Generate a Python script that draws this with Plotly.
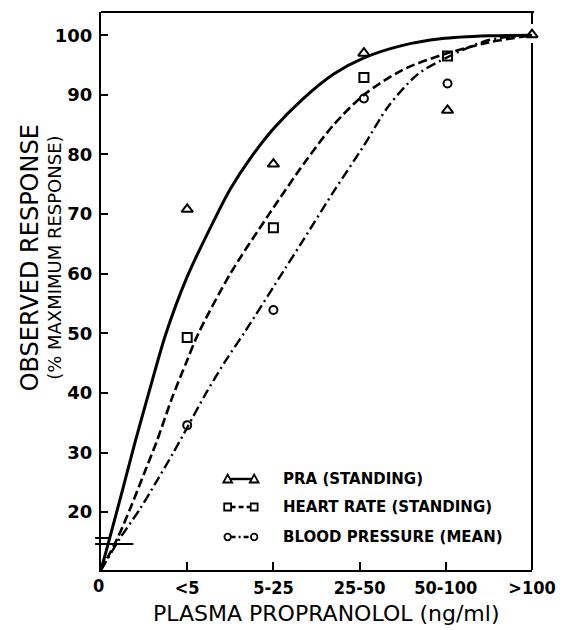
import plotly.graph_objects as go

# ---------------- data ----------------
TICK_POS = [0, 1, 2, 3, 4, 5]
TICK_TEXT = ["0", "<5", "5-25", "25-50", "50-100", ">100"]
Y_TICKS = [20, 30, 40, 50, 60, 70, 80, 90, 100]

# observed points (% maximum response)
PRA_X = [1, 2, 3.05, 4.02, 5.0]
PRA_Y = [70.8, 78.4, 97.0, 87.4, 100.1]
HR_X = [1, 2, 3.05, 4.02, 5.14]
HR_Y = [49.3, 67.7, 92.9, 96.5, 100.0]
BP_X = [1, 2, 3.05, 4.02, 5.26]
BP_Y = [34.6, 53.9, 89.4, 91.9, 100.0]

# fitted curves
PRA_CX = [0, 0.10, 0.20, 0.30, 0.40, 0.56, 0.75, 1.0, 1.33, 1.5, 1.73, 2.0, 2.34, 2.7, 3.05, 3.5, 3.94, 4.5, 5.0]
PRA_CY = [0, 15.6, 21, 26.5, 32, 40.3, 49.8, 59.5, 69.5, 74.2, 79.3, 84.3, 89.3, 93.5, 96.2, 98.3, 99.4, 99.9, 100]
HR_CX = [0, 0.19, 0.35, 0.5, 0.65, 0.82, 1.0, 1.13, 1.5, 1.95, 2.38, 2.7, 3.05, 3.5, 4.0, 4.5, 5.0]
HR_CY = [0, 15.6, 21, 26.5, 32, 39, 45.5, 50, 60, 70, 79.0, 85.0, 90.0, 94.2, 96.9, 98.8, 100]
BP_CX = [0, 0.22, 0.45, 0.65, 0.84, 1.0, 1.22, 1.45, 1.68, 2.12, 2.34, 2.7, 3.05, 3.33, 3.67, 4.03, 4.5, 5.0]
BP_CY = [0, 15.6, 20.5, 25.3, 30, 34.2, 40, 45.5, 50.5, 60.5, 65.5, 73.8, 81.5, 88, 93.4, 96.4, 99.2, 100]

LEGEND_LABELS = ["PRA (STANDING)", "HEART RATE (STANDING)", "BLOOD PRESSURE (MEAN)"]

# ---------------- axis break handling ----------------
Y_MIN, Y_MAX = 10.3, 103.9
BREAK = 15.6


def ybrk(vals):
    """compress 0..BREAK into Y_MIN..BREAK (broken axis)"""
    return [v if v >= BREAK else Y_MIN + v * (BREAK - Y_MIN) / BREAK for v in vals]


FONT = "DejaVu Sans"
NARROW = "Liberation Sans Narrow, DejaVu Sans Condensed, Arial Narrow, sans-serif"

fig = go.Figure()

styles = [
    (PRA_CX, PRA_CY, PRA_X, PRA_Y, "solid", 3, "triangle-up-open", 10),
    (HR_CX, HR_CY, HR_X, HR_Y, "9px,4px", 2.6, "square-open", 9),
    (BP_CX, BP_CY, BP_X, BP_Y, "10px,4px,2px,4px", 2.4, "circle-open", 8),
]

for cx, cy, px, py, dash, w, sym, ms in styles:
    fig.add_trace(go.Scatter(
        x=cx, y=ybrk(cy), mode="lines",
        line=dict(color="black", width=w, dash=dash, shape="spline", smoothing=0.8),
        showlegend=False, hoverinfo="skip"))
    fig.add_trace(go.Scatter(
        x=px, y=ybrk(py), mode="markers",
        marker=dict(symbol=sym, size=ms, color="black", line=dict(width=2, color="black")),
        cliponaxis=False, showlegend=False))

# ---------------- layout ----------------
L, R, T, B = 101, 540, 12, 570
W, H = 568, 630


def PX(x):
    return (x - L) / (R - L)


def PY(y):
    return (B - y) / (B - T)


shapes = []
# top border and right border (with gap at the >100 markers)
shapes.append(dict(type="line", xref="paper", yref="paper", x0=0, x1=PX(542), y0=1, y1=1,
                   line=dict(color="black", width=2)))
shapes.append(dict(type="line", xref="paper", yref="paper", x0=1, x1=1, y0=PY(24), y1=1,
                   line=dict(color="black", width=2)))
shapes.append(dict(type="line", xref="paper", yref="paper", x0=1, x1=1, y0=0, y1=PY(43),
                   line=dict(color="black", width=2)))
# axis break marks
shapes.append(dict(type="line", xref="paper", yref="paper", x0=PX(95), x1=PX(110), y0=PY(538), y1=PY(538),
                   line=dict(color="black", width=2)))
shapes.append(dict(type="line", xref="paper", yref="paper", x0=PX(95), x1=PX(134), y0=PY(544), y1=PY(544),
                   line=dict(color="black", width=2)))

# custom legend
rows = [479, 507, 537]
dashes = ["solid", "5px,3px", "5px,3px,2px,3px"]
annotations = []
for i, (ry, lab) in enumerate(zip(rows, LEGEND_LABELS)):
    x1, x2 = 230, 257
    shapes.append(dict(type="line", xref="paper", yref="paper", x0=PX(x1 + 3), x1=PX(x2 - 3),
                       y0=PY(ry), y1=PY(ry), line=dict(color="black", width=2.4, dash=dashes[i])))
    for cxp in (x1, x2):
        if i == 0:
            s = 4.5
            path = "M {},{} L {},{} L {},{} Z".format(
                PX(cxp - s), PY(ry + 3.5), PX(cxp + s), PY(ry + 3.5), PX(cxp), PY(ry - 4.5))
            shapes.append(dict(type="path", xref="paper", yref="paper", path=path,
                               line=dict(color="black", width=1.8), fillcolor="white"))
        elif i == 1:
            s = 3.5
            shapes.append(dict(type="rect", xref="paper", yref="paper", x0=PX(cxp - s), x1=PX(cxp + s),
                               y0=PY(ry + s), y1=PY(ry - s), line=dict(color="black", width=1.8),
                               fillcolor="white"))
        else:
            s = 3.3
            shapes.append(dict(type="circle", xref="paper", yref="paper", x0=PX(cxp - s), x1=PX(cxp + s),
                               y0=PY(ry + s), y1=PY(ry - s), line=dict(color="black", width=1.8),
                               fillcolor="white"))
    annotations.append(dict(xref="paper", yref="paper", x=PX(284), y=PY(ry), text=lab, showarrow=False,
                            xanchor="left", yanchor="middle",
                            font=dict(family=FONT, size=15, color="black", weight="bold")))

# axis titles
annotations.append(dict(xref="paper", yref="paper", x=PX(331), y=PY(613), text="PLASMA PROPRANOLOL (ng/ml)",
                        showarrow=False, xanchor="center", yanchor="middle",
                        font=dict(family=FONT, size=22, color="black")))
annotations.append(dict(xref="paper", yref="paper", x=PX(29), y=PY(258), text="OBSERVED RESPONSE",
                        showarrow=False, xanchor="center", yanchor="middle", textangle=-90,
                        font=dict(family=FONT, size=24, color="black")))
annotations.append(dict(xref="paper", yref="paper", x=PX(53), y=PY(258), text="(% MAXMIMUM RESPONSE)",
                        showarrow=False, xanchor="center", yanchor="middle", textangle=-90,
                        font=dict(family=FONT, size=18, color="black")))
# "0" at origin
annotations.append(dict(xref="paper", yref="paper", x=PX(98), y=PY(585), text="0", showarrow=False,
                        xanchor="center", yanchor="middle",
                        font=dict(family=NARROW, size=18, color="black", weight="bold")))

fig.update_layout(
    width=W, height=H,
    margin=dict(l=L, r=W - R, t=T, b=H - B, pad=0),
    paper_bgcolor="white", plot_bgcolor="white",
    showlegend=False,
    shapes=shapes,
    annotations=annotations,
    xaxis=dict(range=[0, 5], tickvals=TICK_POS[1:], ticktext=TICK_TEXT[1:],
               ticks="inside", ticklen=8, tickwidth=2, tickcolor="black",
               showline=True, linewidth=2, linecolor="black", showgrid=False, zeroline=False,
               tickfont=dict(family=NARROW, size=18, color="black", weight="bold")),
    yaxis=dict(range=[Y_MIN, Y_MAX], tickvals=Y_TICKS,
               ticks="inside", ticklen=7, tickwidth=2, tickcolor="black",
               showline=True, linewidth=2, linecolor="black", showgrid=False, zeroline=False,
               ticklabelstandoff=3,
               tickfont=dict(family=FONT, size=18, color="black", weight="bold")),
)

fig.write_html("out.html")
